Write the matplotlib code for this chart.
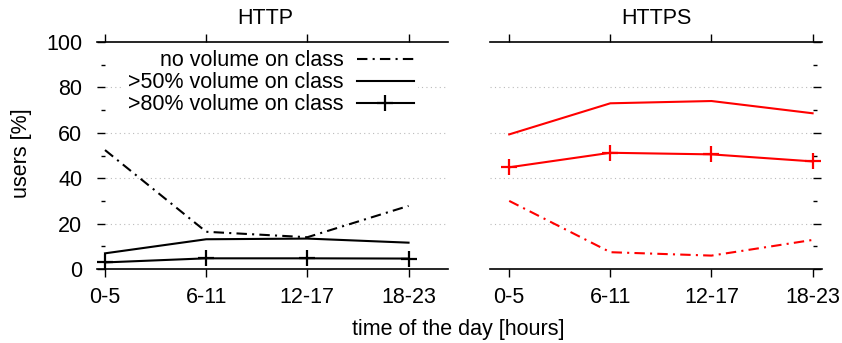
import numpy as np
import matplotlib.pyplot as plt
from matplotlib.ticker import MultipleLocator

plt.rcParams['font.family'] = ['Liberation Sans', 'DejaVu Sans']
plt.rcParams['font.size'] = 15.5

hours = ['0-5', '6-11', '12-17', '18-23']

# HTTP users
http_none = [52.4, 16.4, 14.0, 27.8]
http_50 = [6.9, 13.1, 13.4, 11.6]
http_80 = [2.9, 4.7, 4.7, 4.6]

# HTTPS users
https_none = [30.0, 7.4, 5.9, 12.8]
https_50 = [59.3, 73.0, 74.0, 68.6]
https_80 = [44.8, 51.2, 50.5, 47.4]

labels = ['no volume on class', '>50% volume on class', '>80% volume on class']

W, H = 842, 343
fig = plt.figure(figsize=(W / 100, H / 100), dpi=100)

ax1 = fig.add_axes([96.7 / W, 1 - 269 / H, (448 - 96.7) / W, 227 / H])
ax2 = fig.add_axes([490 / W, 1 - 269 / H, (821.7 - 490) / W, 227 / H])

x = np.arange(len(hours))
dashdot = (0, (5, 2.5, 1, 2.5))


def draw(ax, none, p50, p80, color):
    l1, = ax.plot(x, none, color=color, lw=1.5, linestyle=dashdot)
    l2, = ax.plot(x, p50, color=color, lw=1.5)
    l3, = ax.plot(x, p80, color=color, lw=1.5, marker='+', ms=12, mew=1.6)
    return [l1, l2, l3]


h = draw(ax1, http_none, http_50, http_80, 'black')
draw(ax2, https_none, https_50, https_80, 'red')

ax1.set_xlim(-0.082, 3.39)
ax2.set_xlim(-0.19, 3.09)

for ax in (ax1, ax2):
    ax.set_ylim(0, 100)
    ax.set_xticks(x)
    ax.set_xticklabels(hours)
    ax.yaxis.set_major_locator(MultipleLocator(20))
    ax.yaxis.set_minor_locator(MultipleLocator(10))
    for s in ('top', 'bottom'):
        ax.spines[s].set_linewidth(1.2)
    ax.tick_params(axis='x', which='major', top=True, direction='out',
                   length=5.8, width=1.0, pad=7)
    for y in (20, 40, 60, 80):
        ax.axhline(y, color='#bbbbbb', lw=0.8, linestyle=(0, (1, 3)), zorder=0)

ax1.spines['left'].set_position(('data', 0))
ax1.spines['left'].set_visible(False)
ax1.spines['right'].set_visible(False)
ax1.tick_params(axis='y', which='major', left=True, right=False,
                direction='out', length=5.8, width=1.0, pad=10.5)
ax1.tick_params(axis='y', which='minor', left=True, right=False,
                direction='out', length=2.9, width=1.0)

ax2.spines['right'].set_position(('data', 3))
ax2.spines['right'].set_visible(False)
ax2.spines['left'].set_visible(False)
ax2.tick_params(axis='y', which='both', left=False, right=True,
                labelleft=False, direction='out', width=1.0)
ax2.tick_params(axis='y', which='major', length=5.8)
ax2.tick_params(axis='y', which='minor', length=2.9)

leg = ax1.legend(h, labels, loc='upper right', markerfirst=False,
                 bbox_to_anchor=(418 / W, 1 - 46 / H),
                 bbox_transform=fig.transFigure, borderaxespad=0,
                 borderpad=0.2, handlelength=2.65, handletextpad=0.6,
                 labelspacing=0.05, numpoints=1, fancybox=False,
                 frameon=True, framealpha=1, facecolor='white',
                 edgecolor='none', fontsize=15.5)

fig.text(265 / W, 1 - 18 / H, 'HTTP', ha='center', va='center')
fig.text(656 / W, 1 - 18 / H, 'HTTPS', ha='center', va='center')
fig.text(458 / W, 1 - 329 / H, 'time of the day [hours]',
         ha='center', va='center')
fig.text(22 / W, 1 - 153 / H, 'users [%]', ha='center', va='center',
         rotation=90)

fig.savefig('out.png', dpi=100)
